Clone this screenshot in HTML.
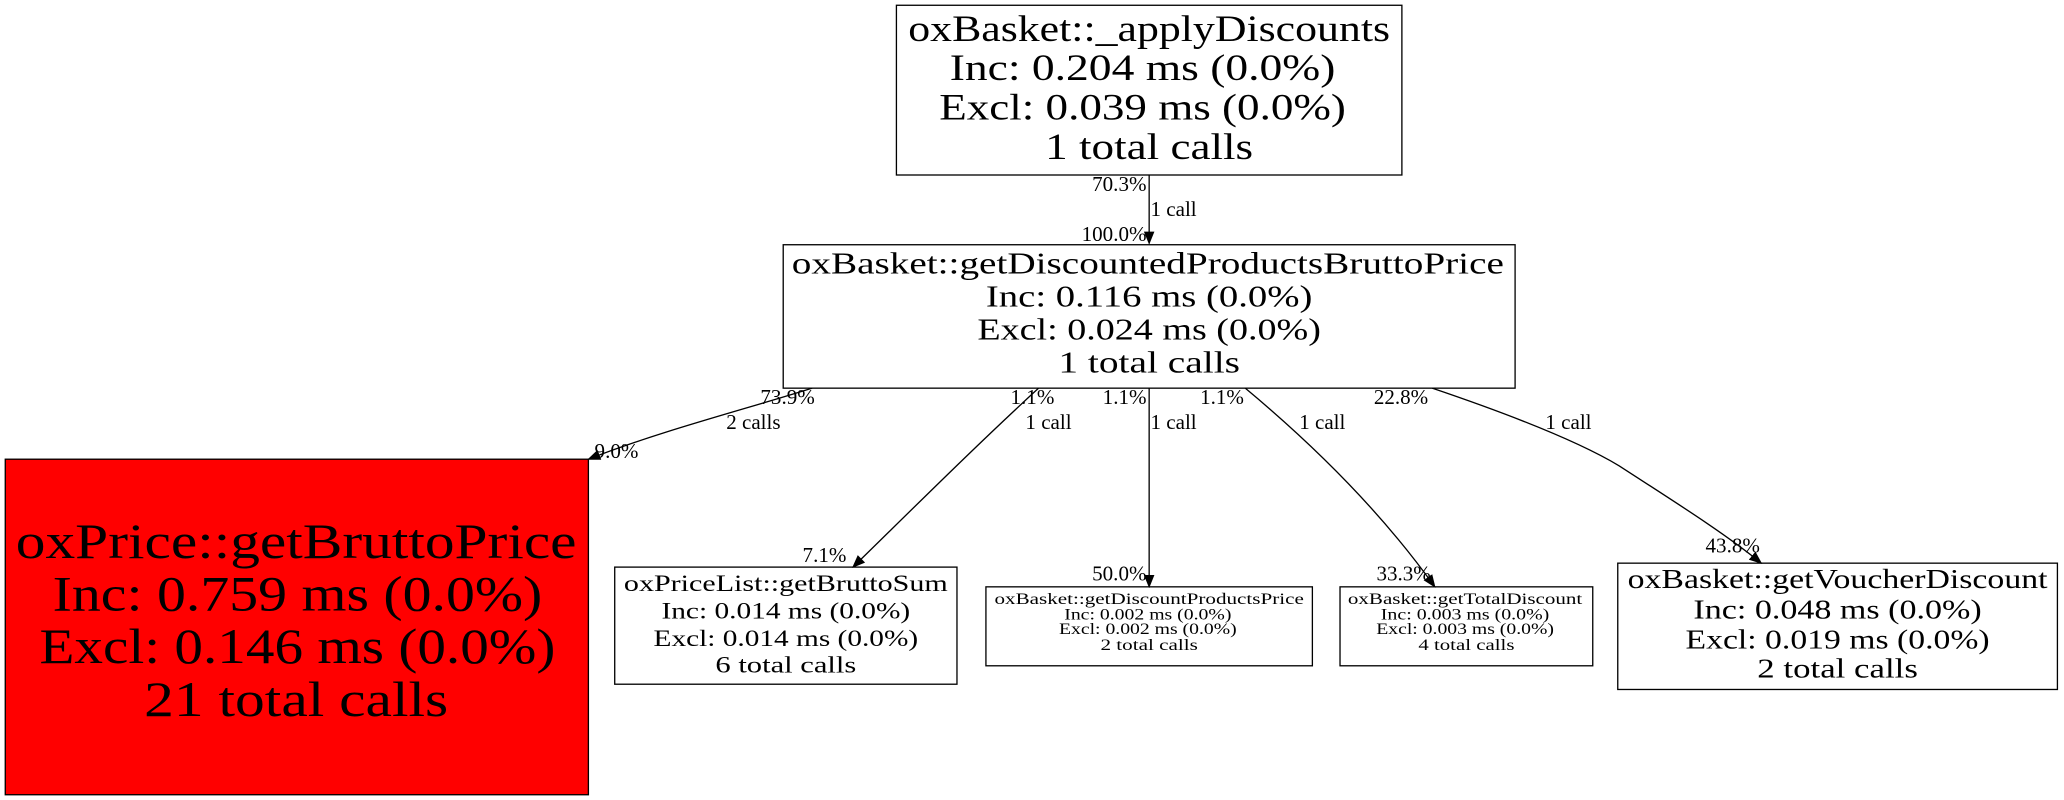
<!DOCTYPE html>
<html><head><meta charset="utf-8"><style>html,body{margin:0;padding:0;background:#fff;}svg{display:block;}</style></head>
<body>
<svg width="2064" height="800" viewBox="0 0 1568 608" preserveAspectRatio="none" xmlns="http://www.w3.org/2000/svg" font-family="Liberation Serif, serif">
<defs><marker id="a" markerWidth="10" markerHeight="8" refX="9" refY="4" orient="auto" markerUnits="userSpaceOnUse"><path d="M0,0 L10,4 L0,8 z" fill="#000"/></marker></defs>
<g fill="none" stroke="#000" stroke-width="1">
<rect x="681" y="4" width="384" height="129" fill="#fff"/>
<rect x="595" y="186" width="556" height="109" fill="#fff"/>
<rect x="4" y="349" width="443" height="255" fill="#ff0000"/>
<rect x="467" y="431" width="260" height="89" fill="#fff"/>
<rect x="749" y="446" width="248" height="60" fill="#fff"/>
<rect x="1018" y="446" width="192" height="60" fill="#fff"/>
<rect x="1229" y="428" width="334" height="96" fill="#fff"/>
<path d="M873,133 L873,185" marker-end="url(#a)"/>
<path d="M617,295 C570,310 500,328 447,349" marker-end="url(#a)"/>
<path d="M789,295 C740,340 690,390 648,431" marker-end="url(#a)"/>
<path d="M873,295 L873,446" marker-end="url(#a)"/>
<path d="M946,295 C1000,340 1050,390 1090,446" marker-end="url(#a)"/>
<path d="M1088,295 C1150,316 1200,336 1230,354 C1270,380 1310,405 1338,428" marker-end="url(#a)"/>
</g>
<g text-anchor="middle" fill="#000">
<text x="873" y="31" font-size="28" textLength="366" lengthAdjust="spacingAndGlyphs">oxBasket::_applyDiscounts</text>
<text x="868" y="61" font-size="28" textLength="293" lengthAdjust="spacingAndGlyphs">Inc: 0.204 ms (0.0%)</text>
<text x="868" y="91" font-size="28" textLength="309" lengthAdjust="spacingAndGlyphs">Excl: 0.039 ms (0.0%)</text>
<text x="873" y="121" font-size="28" textLength="158" lengthAdjust="spacingAndGlyphs">1 total calls</text>

<text x="872" y="208" font-size="23" textLength="541" lengthAdjust="spacingAndGlyphs">oxBasket::getDiscountedProductsBruttoPrice</text>
<text x="873" y="233" font-size="23" textLength="248" lengthAdjust="spacingAndGlyphs">Inc: 0.116 ms (0.0%)</text>
<text x="873" y="258" font-size="23" textLength="261" lengthAdjust="spacingAndGlyphs">Excl: 0.024 ms (0.0%)</text>
<text x="873" y="283" font-size="23" textLength="138" lengthAdjust="spacingAndGlyphs">1 total calls</text>

<text x="225" y="424" font-size="38" textLength="426" lengthAdjust="spacingAndGlyphs">oxPrice::getBruttoPrice</text>
<text x="226" y="464" font-size="38" textLength="372" lengthAdjust="spacingAndGlyphs">Inc: 0.759 ms (0.0%)</text>
<text x="226" y="504" font-size="38" textLength="392" lengthAdjust="spacingAndGlyphs">Excl: 0.146 ms (0.0%)</text>
<text x="225" y="544" font-size="38" textLength="231" lengthAdjust="spacingAndGlyphs">21 total calls</text>

<text x="597" y="449" font-size="18" textLength="246" lengthAdjust="spacingAndGlyphs">oxPriceList::getBruttoSum</text>
<text x="597" y="470" font-size="18" textLength="189" lengthAdjust="spacingAndGlyphs">Inc: 0.014 ms (0.0%)</text>
<text x="597" y="491" font-size="18" textLength="201" lengthAdjust="spacingAndGlyphs">Excl: 0.014 ms (0.0%)</text>
<text x="597" y="511" font-size="18" textLength="107" lengthAdjust="spacingAndGlyphs">6 total calls</text>

<text x="873" y="459" font-size="12" textLength="235" lengthAdjust="spacingAndGlyphs">oxBasket::getDiscountProductsPrice</text>
<text x="872" y="471" font-size="12" textLength="127" lengthAdjust="spacingAndGlyphs">Inc: 0.002 ms (0.0%)</text>
<text x="872" y="482" font-size="12" textLength="135" lengthAdjust="spacingAndGlyphs">Excl: 0.002 ms (0.0%)</text>
<text x="873" y="494" font-size="12" textLength="74" lengthAdjust="spacingAndGlyphs">2 total calls</text>

<text x="1113" y="459" font-size="12" textLength="178" lengthAdjust="spacingAndGlyphs">oxBasket::getTotalDiscount</text>
<text x="1113" y="471" font-size="12" textLength="128" lengthAdjust="spacingAndGlyphs">Inc: 0.003 ms (0.0%)</text>
<text x="1113" y="482" font-size="12" textLength="135" lengthAdjust="spacingAndGlyphs">Excl: 0.003 ms (0.0%)</text>
<text x="1114" y="494" font-size="12" textLength="73" lengthAdjust="spacingAndGlyphs">4 total calls</text>

<text x="1396" y="447" font-size="21" textLength="319" lengthAdjust="spacingAndGlyphs">oxBasket::getVoucherDiscount</text>
<text x="1396" y="470" font-size="21" textLength="219" lengthAdjust="spacingAndGlyphs">Inc: 0.048 ms (0.0%)</text>
<text x="1396" y="493" font-size="21" textLength="231" lengthAdjust="spacingAndGlyphs">Excl: 0.019 ms (0.0%)</text>
<text x="1396" y="515" font-size="21" textLength="122" lengthAdjust="spacingAndGlyphs">2 total calls</text>
</g>
<g font-size="16" fill="#000">
<text x="871" y="145" text-anchor="end">70.3%</text>
<text x="874" y="164">1 call</text>
<text x="871" y="183" text-anchor="end">100.0%</text>
<text x="619" y="307" text-anchor="end">73.9%</text>
<text x="593" y="326" text-anchor="end">2 calls</text>
<text x="485" y="348" text-anchor="end">9.0%</text>
<text x="801" y="307" text-anchor="end">1.1%</text>
<text x="779" y="326">1 call</text>
<text x="643" y="427" text-anchor="end">7.1%</text>
<text x="871" y="307" text-anchor="end">1.1%</text>
<text x="874" y="326">1 call</text>
<text x="871" y="441" text-anchor="end">50.0%</text>
<text x="945" y="307" text-anchor="end">1.1%</text>
<text x="987" y="326">1 call</text>
<text x="1087" y="441" text-anchor="end">33.3%</text>
<text x="1085" y="307" text-anchor="end">22.8%</text>
<text x="1174" y="326">1 call</text>
<text x="1337" y="420" text-anchor="end">43.8%</text>
</g>
</svg>
</body></html>
